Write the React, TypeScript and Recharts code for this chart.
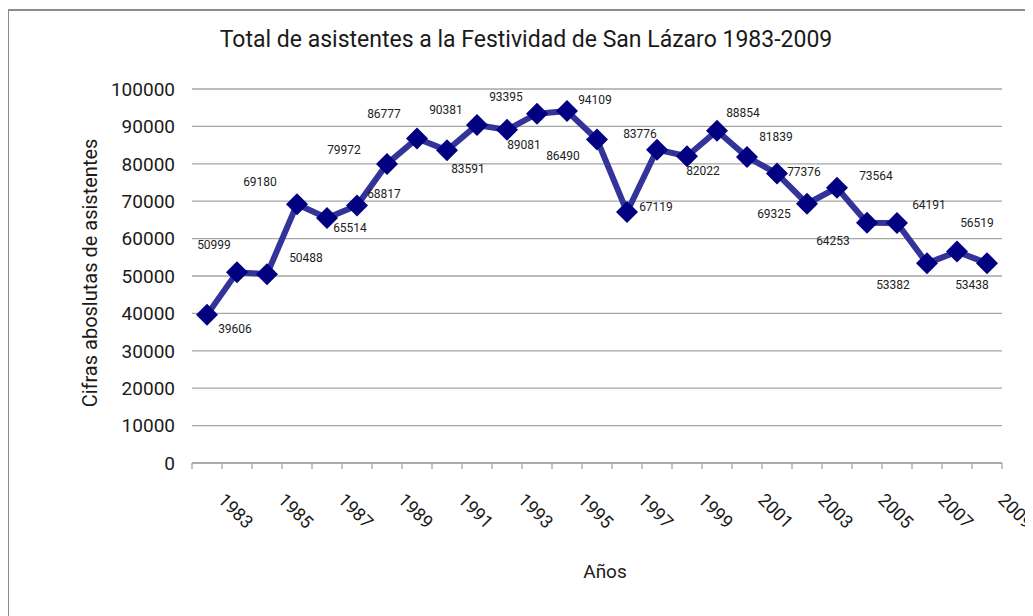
import React from "react"
import { LineChart, Line, XAxis, YAxis, CartesianGrid, LabelList } from "recharts"

const years = [
  "1983", "1984", "1985", "1986", "1987", "1988", "1989", "1990", "1991",
  "1992", "1993", "1994", "1995", "1996", "1997", "1998", "1999", "2000",
  "2001", "2002", "2003", "2004", "2005", "2006", "2007", "2008", "2009",
]

const attendees = [
  39606, 50999, 50488, 69180, 65514, 68817, 79972, 86777, 83591,
  90381, 89081, 93395, 94109, 86490, 67119, 83776, 82022, 88854,
  81839, 77376, 69325, 73564, 64253, 64191, 53382, 56519, 53438,
]

const yTicks = [0, 10000, 20000, 30000, 40000, 50000, 60000, 70000, 80000, 90000, 100000]

// where each data label sits relative to its point (Excel placed them by hand)
const labelOffsets = [
  [28, 14], [-23, -27], [39, -16], [-37, -22], [23, 10], [27, -12], [-43, -14],
  [-33, -24], [21, 19], [-31, -15], [17, 15], [-31, -17], [28, -11], [-34, 16],
  [29, -5], [-17, -16], [16, 15], [26, -18], [29, -20], [27, -2], [-33, 10],
  [39, -12], [-34, 18], [32, -18], [-34, 22], [20, -29], [-15, 22],
]

const data = years.map((year, i) => ({ year, asistentes: attendees[i] }))

const FONT = "Roboto, 'Liberation Sans', sans-serif"
const GRID = "#a6a6a6"
const HALF_STEP = 15

function YearTick(props: any) {
  const { x, y, payload, index } = props
  const last = index === years.length - 1
  return (
    <g>
      <line x1={x - HALF_STEP} y1={y} x2={x - HALF_STEP} y2={y + 6} stroke={GRID} strokeWidth={1.3} />
      {last && <line x1={x + HALF_STEP} y1={y} x2={x + HALF_STEP} y2={y + 6} stroke={GRID} strokeWidth={1.3} />}
      {index % 2 === 0 && (
        <text
          x={x + 10}
          y={y + 38}
          transform={`rotate(45 ${x + 10} ${y + 38})`}
          fontSize={18}
          fontFamily={FONT}
          fill="#1a1a1a"
        >
          {payload.value}
        </text>
      )}
    </g>
  )
}

function Diamond(props: any) {
  const { cx, cy, index } = props
  const r = 11
  return (
    <polygon
      key={`d-${index}`}
      points={`${cx},${cy - r} ${cx + r},${cy} ${cx},${cy + r} ${cx - r},${cy}`}
      fill="#000080"
    />
  )
}

function PointLabel(props: any) {
  const { x, y, value, index } = props
  const [dx, dy] = labelOffsets[index] || [0, -15]
  return (
    <text
      x={x + dx}
      y={y + dy}
      textAnchor="middle"
      dominantBaseline="central"
      fontSize={12}
      fontFamily={FONT}
      fill="#222"
    >
      {value}
    </text>
  )
}

export default function App() {
  return (
    <div
      style={{
        position: "relative",
        left: -1,
        top: 1,
        width: 1040,
        height: 620,
        border: "2px solid #8c8c8c",
        boxSizing: "border-box",
        background: "#fff",
        fontFamily: FONT,
        color: "#1a1a1a",
      }}
    >
      <div
        style={{
          position: "absolute",
          left: 0,
          width: 1034,
          top: 17,
          textAlign: "center",
          fontSize: 23,
          lineHeight: "23px",
        }}
      >
        Total de asistentes a la Festividad de San Lázaro 1983-2009
      </div>
      <div
        style={{
          position: "absolute",
          left: 81 - 200,
          top: 262 - 12,
          width: 400,
          height: 24,
          lineHeight: "24px",
          textAlign: "center",
          fontSize: 20,
          transform: "rotate(-90deg)",
        }}
      >
        Cifras aboslutas de asistentes
      </div>
      <div
        style={{
          position: "absolute",
          left: 596 - 100,
          width: 200,
          top: 551,
          textAlign: "center",
          fontSize: 19,
          lineHeight: "19px",
        }}
      >
        Años
      </div>
      <LineChart
        width={1029}
        height={605}
        data={data}
        margin={{ top: 78, right: 36, bottom: 123, left: 103 }}
      >
        <CartesianGrid vertical={false} stroke={GRID} strokeWidth={1.3} />
        <XAxis
          dataKey="year"
          interval={0}
          padding={{ left: HALF_STEP, right: HALF_STEP }}
          axisLine={{ stroke: GRID, strokeWidth: 1.3 }}
          tickLine={false}
          tickSize={0}
          tickMargin={0}
          height={30}
          tick={<YearTick />}
        />
        <YAxis
          domain={[0, 100000]}
          ticks={yTicks}
          interval={0}
          width={80}
          axisLine={false}
          tickLine={false}
          tickSize={0}
          tickMargin={17}
          tick={{ fontSize: 19, fill: "#1a1a1a", fontFamily: FONT }}
        />
        <Line
          dataKey="asistentes"
          stroke="#333399"
          strokeWidth={6}
          dot={<Diamond />}
          activeDot={false}
          isAnimationActive={false}
        >
          <LabelList dataKey="asistentes" content={<PointLabel />} />
        </Line>
      </LineChart>
    </div>
  )
}
